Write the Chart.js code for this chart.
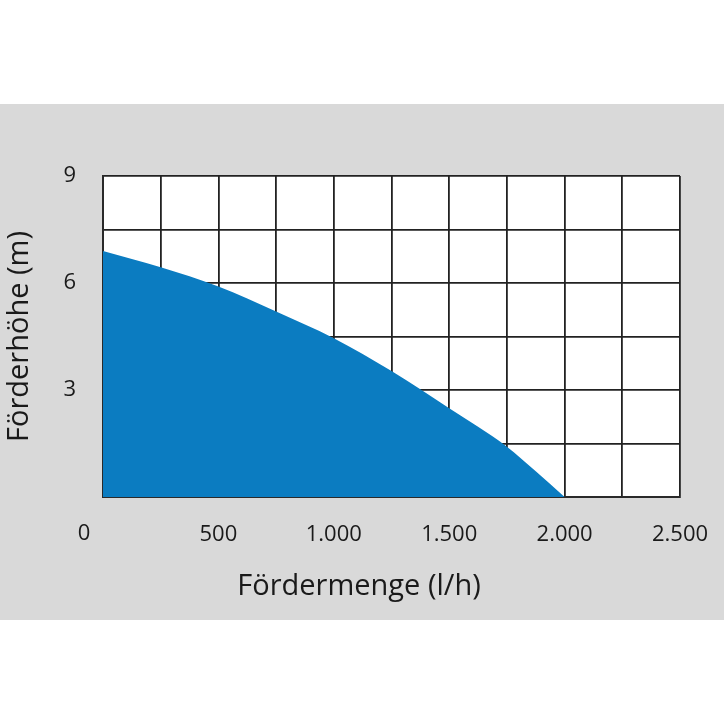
<!DOCTYPE html>
<html>
<head>
<meta charset="utf-8">
<script src="https://cdn.jsdelivr.net/npm/chart.js@4/dist/chart.umd.min.js"></script>
<style>
  html, body { margin: 0; padding: 0; background: #fff; width: 724px; height: 724px; overflow: hidden; }
  #band { position: absolute; left: 0; top: 104px; width: 724px; height: 516px; background: #d9d9d9; }
  #pump { display: block; }
</style>
</head>
<body>
<div id="band"><canvas id="pump" width="724" height="516"></canvas></div>
<script>
// Pump curve: flow rate (l/h) vs. delivery head (m)
const flowRate = [0, 250, 500, 750, 1000, 1250, 1500, 1625, 1750, 1875, 2000];
const headM    = [6.90, 6.44, 5.90, 5.20, 4.45, 3.53, 2.49, 1.97, 1.41, 0.72, 0];

const xTicksAt = [500, 1000, 1500, 2000, 2500];
const yTicksAt = [3, 6, 9];

const xTitle = 'Fördermenge (l/h)';
const yTitle = 'Förderhöhe (m)';

const FONT = '"Open Sans", "DejaVu Sans", sans-serif';
const BLUE = '#0b7cc1';
const INK = '#1a1a1a';

const fmtDE = v => String(v).replace(/\B(?=(\d{3})+(?!\d))/g, '.');

// white plot area, grid drawn over the fill
const plotBg = {
  id: 'plotBg',
  beforeDraw(chart) {
    const { ctx, chartArea: a } = chart;
    ctx.save();
    ctx.fillStyle = '#fff';
    ctx.fillRect(a.left, a.top, a.right - a.left, a.bottom - a.top);
    ctx.restore();
  }
};

// x title sits a bit left of the plot centre, and "0" hangs left of the axis
const extraText = {
  id: 'extraText',
  afterDraw(chart) {
    const { ctx } = chart;
    const x = chart.scales.x;
    ctx.save();
    ctx.fillStyle = INK;
    ctx.textAlign = 'center';
    ctx.textBaseline = 'middle';
    ctx.font = '22px ' + FONT;
    ctx.fillText('0', x.getPixelForValue(0) - 19, 430);
    ctx.font = '29px ' + FONT;
    ctx.fillText(xTitle, 359, 483);
    ctx.restore();
  }
};

new Chart(document.getElementById('pump'), {
  type: 'line',
  data: {
    datasets: [{
      data: flowRate.map((f, i) => ({ x: f, y: headM[i] })),
      fill: 'origin',
      backgroundColor: BLUE,
      borderWidth: 0,
      borderColor: BLUE,
      pointRadius: 0,
      cubicInterpolationMode: 'monotone',
    }],
  },
  options: {
    responsive: false,
    animation: false,
    layout: { padding: { top: 72, right: 44, bottom: 0, left: 0 } },
    plugins: { legend: { display: false }, tooltip: { enabled: false } },
    scales: {
      x: {
        type: 'linear', min: 0, max: 2500, z: 1,
        afterFit: s => { s.height = 123; s.paddingLeft = 0; s.paddingRight = 0; },
        afterBuildTicks: s => { s.ticks = Array.from({ length: 11 }, (_, i) => ({ value: i * 250 })); },
        border: { color: '#2a2a2a', width: 2 },
        grid: { color: '#222', lineWidth: 1.8, drawTicks: false },
        ticks: {
          color: INK, padding: 25, maxRotation: 0, autoSkip: false,
          font: { family: FONT, size: 22 },
          callback: v => xTicksAt.includes(v) ? fmtDE(v) : '',
        },
      },
      y: {
        type: 'linear', min: 0, max: 9, z: 1,
        afterFit: s => { s.width = 103; },
        afterBuildTicks: s => { s.ticks = Array.from({ length: 7 }, (_, i) => ({ value: i * 1.5 })); },
        border: { color: '#2a2a2a', width: 2 },
        grid: { color: '#222', lineWidth: 1.8, drawTicks: false },
        ticks: {
          color: INK, padding: 27, autoSkip: false,
          font: { family: FONT, size: 22 },
          callback: v => yTicksAt.includes(v) ? String(v) : '',
        },
        title: {
          display: true, text: yTitle, color: INK, padding: { top: 2, bottom: 0 },
          font: { family: FONT, size: 29 },
        },
      },
    },
  },
  plugins: [plotBg, extraText],
});
</script>
</body>
</html>
